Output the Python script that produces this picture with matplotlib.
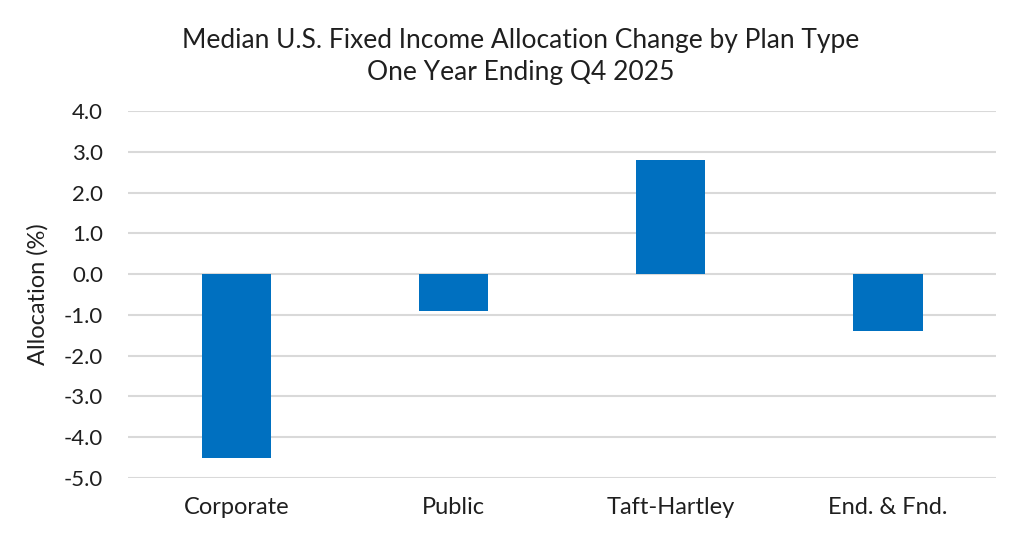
import matplotlib
matplotlib.use('Agg')
from matplotlib import pyplot as plt

plt.rcParams['font.family'] = ['Lato', 'DejaVu Sans']

categories = ['Corporate', 'Public', 'Taft-Hartley', 'End. & Fnd.']
values = [-4.5, -0.9, 2.8, -1.4]
yticks = [4.0, 3.0, 2.0, 1.0, 0.0, -1.0, -2.0, -3.0, -4.0, -5.0]

fig = plt.figure(figsize=(10.24, 5.52), dpi=100)
ax = fig.add_axes([0.125, 0.134, 0.848, 0.665])

x = range(len(categories))
ax.bar(x, values, width=0.32, color='#0070C0', zorder=3)

ax.set_xlim(-0.5, len(categories) - 0.5)
ax.set_ylim(-5.0, 4.0)
ax.set_yticks(yticks)
ax.set_yticklabels(['%.1f' % v for v in yticks])
ax.set_xticks(list(x))
ax.set_xticklabels(categories)
ax.yaxis.grid(True, color='#d9d9d9', linewidth=1.5, zorder=0)
ax.set_axisbelow(True)
for s in ax.spines.values():
    s.set_visible(False)
ax.tick_params(axis='y', length=0, labelsize=16, colors='#1f1f1f', pad=18)
ax.tick_params(axis='x', length=0, labelsize=17, colors='#1f1f1f', pad=14)
ax.set_ylabel('Allocation (%)', fontsize=17, color='#1f1f1f', labelpad=11)

fig.text(0.508, 0.898, 'Median U.S. Fixed Income Allocation Change by Plan Type\nOne Year Ending Q4 2025',
         ha='center', va='center', fontsize=19, color='#1f1f1f', linespacing=1.35)

fig.savefig('out.png', dpi=100)
